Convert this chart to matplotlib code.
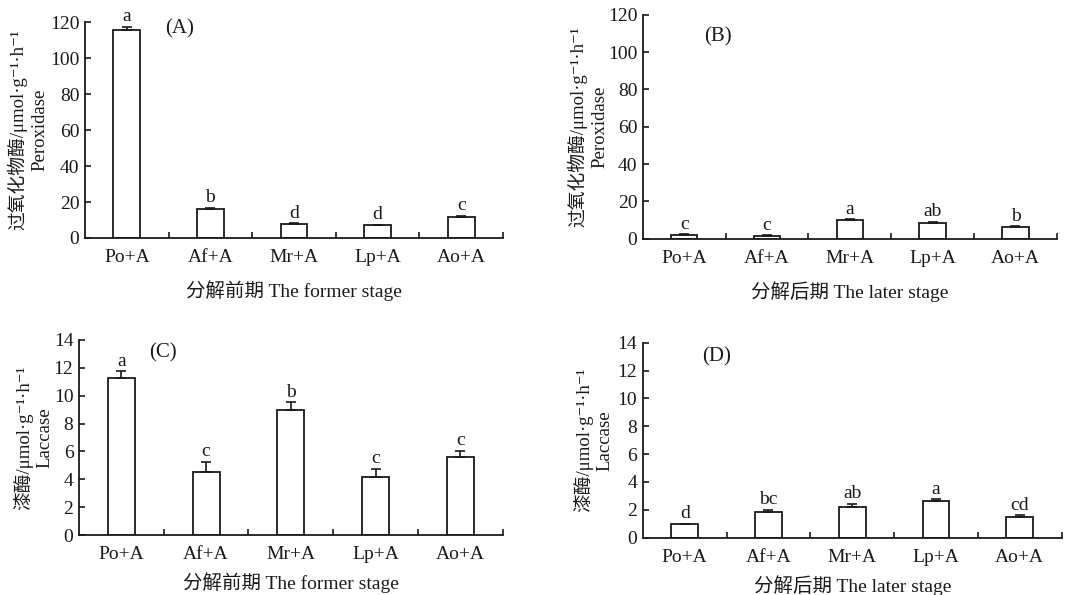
import matplotlib.pyplot as plt
import numpy as np

plt.rcParams["font.family"] = ["Liberation Serif", "DejaVu Serif", "Noto Sans CJK SC"]
plt.rcParams["text.color"] = "#1a1a1a"
plt.rcParams["axes.edgecolor"] = "#1a1a1a"
plt.rcParams["xtick.color"] = "#1a1a1a"
plt.rcParams["ytick.color"] = "#1a1a1a"

treatments = ["Po+A", "Af+A", "Mr+A", "Lp+A", "Ao+A"]

# peroxidase, former / later stage
pox_former = [115.5, 16.0, 7.8, 7.0, 11.5]
pox_former_err = [2.0, 0.8, 0.3, 0.3, 0.9]
pox_former_sig = ["a", "b", "d", "d", "c"]

pox_later = [2.0, 1.3, 9.8, 8.4, 6.3]
pox_later_err = [0.3, 0.5, 0.6, 0.6, 0.5]
pox_later_sig = ["c", "c", "a", "ab", "b"]

# laccase, former / later stage
lac_former = [11.3, 4.5, 9.0, 4.2, 5.6]
lac_former_err = [0.45, 0.75, 0.55, 0.55, 0.45]
lac_former_sig = ["a", "c", "b", "c", "c"]

lac_later = [1.0, 1.85, 2.2, 2.6, 1.5]
lac_later_err = [0.0, 0.15, 0.25, 0.15, 0.1]
lac_later_sig = ["d", "bc", "ab", "a", "cd"]

pox_label = "过氧化物酶/μmol·g⁻¹·h⁻¹\nPeroxidase"
lac_label = "漆酶/μmol·g⁻¹·h⁻¹\nLaccase"
former_label = "分解前期 The former stage"
later_label = "分解后期 The later stage"

panels = [
    # rect, values, errors, letters, ymax, ystep, ylabel, ylabel_x, xlabel, tag, tag_xy, xlabel_y
    ([0.0784, 0.600, 0.3856, 0.363], pox_former, pox_former_err, pox_former_sig,
     120, 20, pox_label, -0.136, former_label, "(A)", (0.227, 0.967), -0.245),
    ([0.593, 0.599, 0.382, 0.376], pox_later, pox_later_err, pox_later_sig,
     120, 20, pox_label, -0.132, later_label, "(B)", (0.181, 0.90), -0.235),
    ([0.0729, 0.1008, 0.3908, 0.3278], lac_former, lac_former_err, lac_former_sig,
     14, 2, lac_label, -0.108, former_label, "(C)", (0.198, 0.933), -0.245),
    ([0.593, 0.0963, 0.3864, 0.3277], lac_later, lac_later_err, lac_later_sig,
     14, 2, lac_label, -0.118, later_label, "(D)", (0.177, 0.927), -0.245),
]

fig = plt.figure(figsize=(10.84, 5.95), dpi=100)

x = np.arange(len(treatments))
for rect, vals, errs, sig, ymax, ystep, ylab, ylab_x, xlab, tag, tag_xy, xlab_y in panels:
    ax = fig.add_axes(rect)
    ax.bar(x, vals, width=0.32, color="white", edgecolor="#1a1a1a", linewidth=1.3, zorder=2)
    ax.errorbar(x, vals, yerr=[np.zeros(len(vals)), errs], fmt="none",
                ecolor="#1a1a1a", elinewidth=1.2, capsize=3.5, capthick=1.2, zorder=3)
    for xi, v, e, s in zip(x, vals, errs, sig):
        ax.annotate(s, (xi, v + e), xytext=(0, 1), textcoords="offset points",
                    ha="center", va="bottom", fontsize=14)

    ax.set_xlim(-0.5, len(treatments) - 0.5)
    ax.set_ylim(0, ymax)
    ax.set_yticks(np.arange(0, ymax + ystep / 2, ystep))
    ax.set_xticks(x)
    ax.set_xticklabels(treatments)
    ax.set_xticks(np.arange(0.5, len(treatments)), minor=True)
    ax.tick_params(axis="x", which="major", length=0, pad=8, labelsize=14)
    ax.tick_params(axis="x", which="minor", direction="in", length=4, width=1.2)
    ax.tick_params(axis="y", direction="in", length=4, width=1.2, pad=4, labelsize=14)

    for side in ("top", "right"):
        ax.spines[side].set_visible(False)
    for side in ("left", "bottom"):
        ax.spines[side].set_linewidth(1.3)

    ax.text(ylab_x, 0.5, ylab, transform=ax.transAxes, rotation=90,
            ha="center", va="center", multialignment="center", fontsize=13.5,
            linespacing=1.3)
    ax.text(0.5, xlab_y, xlab, transform=ax.transAxes, ha="center", va="center", fontsize=14)
    ax.text(tag_xy[0], tag_xy[1], tag, transform=ax.transAxes, ha="center", va="center", fontsize=15)

fig.savefig("out.png", dpi=100)
